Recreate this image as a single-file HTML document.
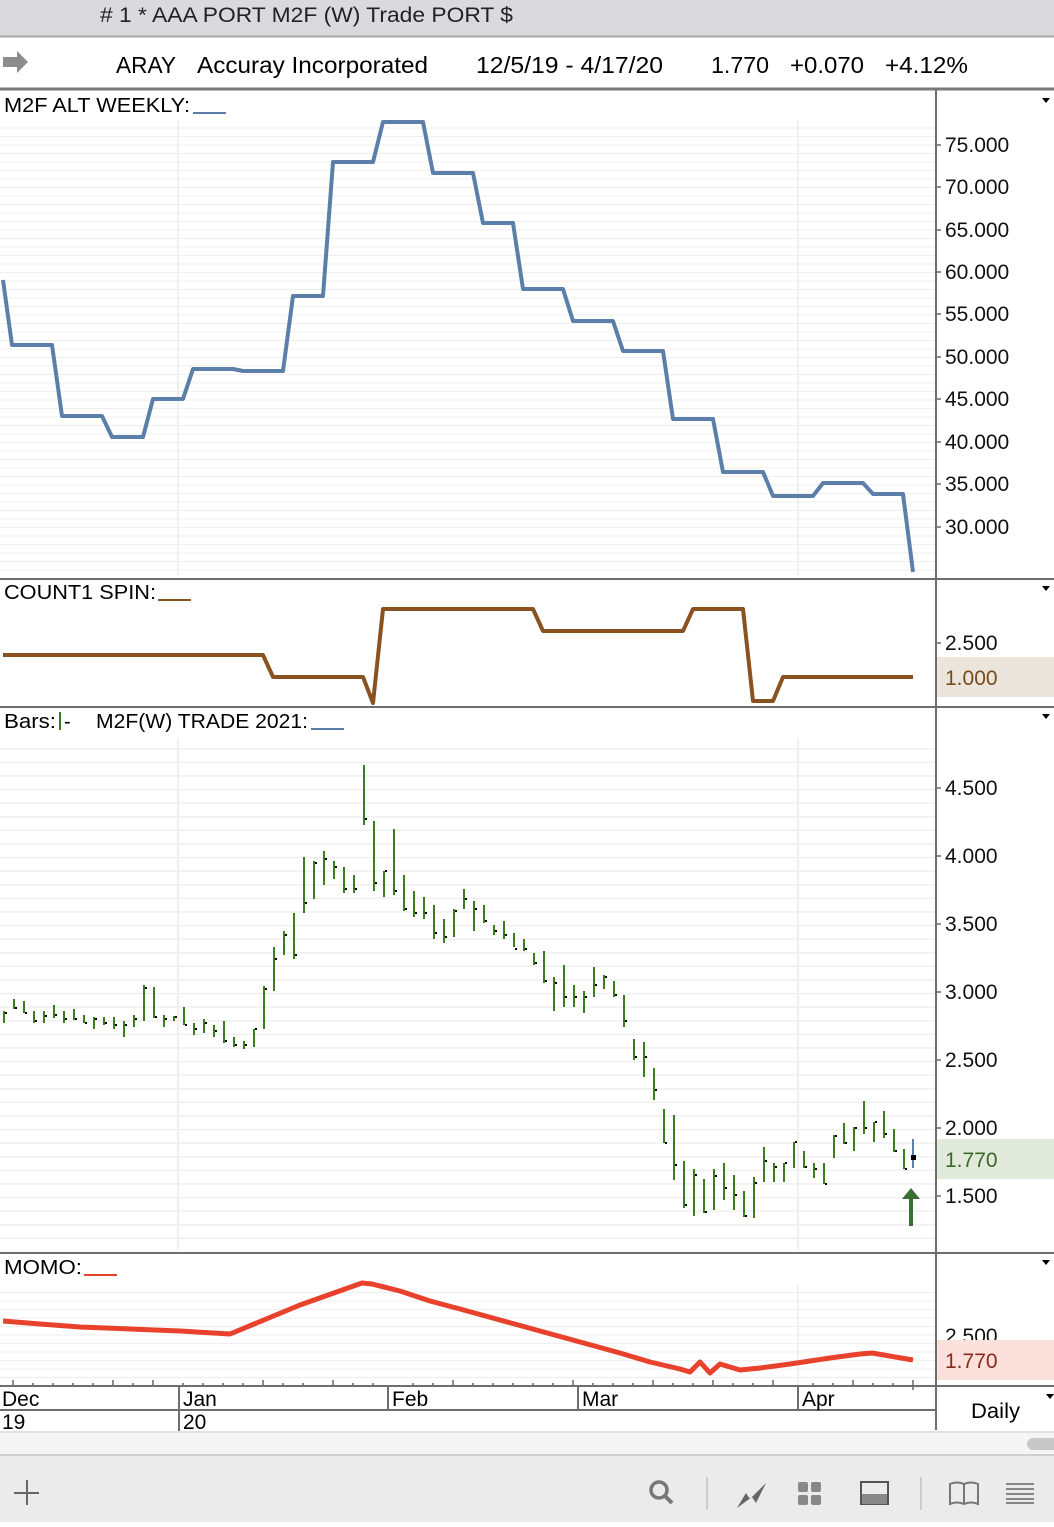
<!DOCTYPE html>
<html><head><meta charset="utf-8"><style>
html,body{margin:0;padding:0;background:#fff;}
body{width:1054px;height:1522px;overflow:hidden;font-family:"Liberation Sans",sans-serif;}
svg text{font-family:"Liberation Sans",sans-serif;}
</style></head><body>
<svg width="1054" height="1522" viewBox="0 0 1054 1522" xmlns="http://www.w3.org/2000/svg">
<defs>
<pattern id="g1" width="10" height="8.5" patternUnits="userSpaceOnUse"><line x1="0" y1="0.5" x2="10" y2="0.5" stroke="#efefef" stroke-width="1"/></pattern>
<pattern id="g2" width="10" height="13.6" patternUnits="userSpaceOnUse"><line x1="0" y1="0.5" x2="10" y2="0.5" stroke="#efefef" stroke-width="2"/></pattern>
</defs>
<!-- header -->
<rect x="0" y="0" width="1054" height="36" fill="#dad9db"/>
<line x1="0" y1="36.5" x2="1054" y2="36.5" stroke="#a9a9a9" stroke-width="2"/>
<text x="100" y="22" font-size="21" fill="#222" textLength="413" lengthAdjust="spacingAndGlyphs"># 1 * AAA PORT M2F (W) Trade PORT $</text>
<path d="M3 57 h14 v-6 l11 11 l-11 11 v-6 h-14z" fill="#8c8c8c"/>
<text x="116" y="73" font-size="23" fill="#000" textLength="60" lengthAdjust="spacingAndGlyphs">ARAY</text>
<text x="197" y="73" font-size="23" fill="#000" textLength="231" lengthAdjust="spacingAndGlyphs">Accuray Incorporated</text>
<text x="476" y="73" font-size="23" fill="#000" textLength="187" lengthAdjust="spacingAndGlyphs">12/5/19 - 4/17/20</text>
<text x="711" y="73" font-size="23" fill="#000" textLength="58" lengthAdjust="spacingAndGlyphs">1.770</text>
<text x="790" y="73" font-size="23" fill="#000" textLength="74" lengthAdjust="spacingAndGlyphs">+0.070</text>
<text x="885" y="73" font-size="23" fill="#000" textLength="83" lengthAdjust="spacingAndGlyphs">+4.12%</text>
<line x1="0" y1="89" x2="1054" y2="89" stroke="#7a7a7a" stroke-width="3"/>

<!-- grids -->
<rect x="0" y="120" width="936" height="455" fill="url(#g1)"/>
<rect x="0" y="738" width="936" height="512" fill="url(#g2)"/>
<rect x="0" y="1285" width="936" height="100" fill="url(#g1)"/>
<line x1="178" y1="120" x2="178" y2="575" stroke="#efefef" stroke-width="2"/>
<line x1="798" y1="120" x2="798" y2="575" stroke="#efefef" stroke-width="2"/>
<line x1="178" y1="738" x2="178" y2="1250" stroke="#efefef" stroke-width="2"/>
<line x1="798" y1="738" x2="798" y2="1250" stroke="#efefef" stroke-width="2"/>
<line x1="798" y1="1285" x2="798" y2="1385" stroke="#efefef" stroke-width="2"/>

<!-- panel separators -->
<line x1="936" y1="90" x2="936" y2="1430" stroke="#6e6e6e" stroke-width="2"/>
<line x1="0" y1="579" x2="1054" y2="579" stroke="#6e6e6e" stroke-width="2"/>
<line x1="0" y1="707" x2="1054" y2="707" stroke="#6e6e6e" stroke-width="2"/>
<line x1="0" y1="1253" x2="1054" y2="1253" stroke="#6e6e6e" stroke-width="2"/>
<line x1="0" y1="1386" x2="1054" y2="1386" stroke="#6e6e6e" stroke-width="2"/>

<!-- panel labels -->
<text x="4" y="112" font-size="20" textLength="186" lengthAdjust="spacingAndGlyphs">M2F ALT WEEKLY:</text><line x1="193" y1="113" x2="226" y2="113" stroke="#5b7fa8" stroke-width="2"/>
<text x="4" y="599" font-size="20" textLength="152" lengthAdjust="spacingAndGlyphs">COUNT1 SPIN:</text><line x1="158" y1="600" x2="191" y2="600" stroke="#8a5220" stroke-width="2"/>
<text x="4" y="728" font-size="20" textLength="52" lengthAdjust="spacingAndGlyphs">Bars:</text><line x1="60" y1="712" x2="60" y2="730" stroke="#3d7d1f" stroke-width="2"/><text x="64" y="728" font-size="20">-</text>
<text x="96" y="728" font-size="20" textLength="212" lengthAdjust="spacingAndGlyphs">M2F(W) TRADE 2021:</text><line x1="311" y1="729" x2="344" y2="729" stroke="#5b7fa8" stroke-width="2"/>
<text x="4" y="1274" font-size="20" textLength="78" lengthAdjust="spacingAndGlyphs">MOMO:</text><line x1="84" y1="1275" x2="117" y2="1275" stroke="#e8412c" stroke-width="2"/>
<g fill="#000"><path d="M1042 98 h8 l-4 5z"/><path d="M1042 586 h8 l-4 5z"/><path d="M1042 714 h8 l-4 5z"/><path d="M1042 1260 h8 l-4 5z"/><path d="M1046 1394 h8 l-4 5z"/></g>

<!-- right axis labels -->
<g font-size="21" fill="#111">
<text x="945" y="152">75.000</text><text x="945" y="194">70.000</text><text x="945" y="237">65.000</text><text x="945" y="279">60.000</text><text x="945" y="321">55.000</text><text x="945" y="364">50.000</text><text x="945" y="406">45.000</text><text x="945" y="449">40.000</text><text x="945" y="491">35.000</text><text x="945" y="534">30.000</text>
<text x="945" y="650">2.500</text>
<text x="945" y="795">4.500</text><text x="945" y="863">4.000</text><text x="945" y="931">3.500</text><text x="945" y="999">3.000</text><text x="945" y="1067">2.500</text><text x="945" y="1135">2.000</text><text x="945" y="1203">1.500</text>
<text x="945" y="1343">2.500</text>
</g>
<g stroke="#666" stroke-width="1.5">
<path d="M937 145h4M937 187h4M937 230h4M937 272h4M937 314h4M937 357h4M937 399h4M937 442h4M937 484h4M937 527h4M937 643h4M937 788h4M937 856h4M937 924h4M937 992h4M937 1060h4M937 1128h4M937 1196h4"/>
</g>
<rect x="937" y="657" width="117" height="40" fill="#ece5dc"/>
<text x="945" y="685" font-size="21" fill="#7a4a1a">1.000</text>
<rect x="937" y="1139" width="117" height="40" fill="#e2eadc"/>
<text x="945" y="1167" font-size="21" fill="#3b6a24">1.770</text>
<rect x="937" y="1340" width="117" height="40" fill="#fbe0dc"/>
<text x="945" y="1368" font-size="21" fill="#8a2a1a">1.770</text>

<!-- top blue step line -->
<polyline fill="none" stroke="#5b7fa8" stroke-width="4" stroke-linejoin="round" points="3,280 12,345 52,345 62,416 102,416 112,437 143,437 153,399 183,399 193,369 233,369 243,371 283,371 293,296 323,296 333,162 373,162 383,122 423,122 433,173 473,173 483,223 513,223 523,289 563,289 573,321 613,321 623,351 663,351 673,419 713,419 723,472 763,472 773,496 813,496 823,483 863,483 873,494 903,494 913,572"/>

<!-- count1 brown -->
<polyline fill="none" stroke="#8a5220" stroke-width="4" stroke-linejoin="round" points="3,655 263,655 273,677 363,677 373,703 383,609 533,609 543,631 683,631 693,609 743,609 753,701 773,701 783,677 913,677"/>

<!-- price bars -->
<path fill="none" stroke="#3d7d1f" stroke-width="2" d="M4 1011V1023M14 999V1009M24 1001V1013M34 1011V1023M44 1011V1023M54 1005V1018M64 1011V1023M74 1009V1020M84 1015V1023M94 1017V1029M104 1017V1025M114 1017V1029M124 1021V1037M134 1015V1027M144 985V1021M154 987V1018M164 1015V1027M174 1016V1021M184 1007V1025M194 1023V1035M204 1019V1033M214 1025V1037M224 1021V1043M234 1037V1047M244 1041V1049M254 1029V1047M264 986V1029M274 947V991M284 931V955M294 913V959M304 857V913M314 861V899M324 851V885M334 861V879M344 867V893M354 875V893M364 765V825M374 821V891M384 871V897M394 829V895M404 875V911M414 891V917M424 897V919M434 905V939M444 919V943M454 909V937M464 889V909M474 901V931M484 905V923M494 925V935M504 921V939M514 933V947M524 939V951M534 953V965M544 951V983M554 977V1011M564 965V1007M574 985V1007M584 991V1013M594 967V997M604 975V989M614 981V997M624 995V1027M634 1039V1060M644 1042V1077M654 1068V1100M664 1109V1143M674 1115V1180M684 1161V1208M694 1169V1216M704 1179V1213M714 1169V1210M724 1163V1200M734 1175V1210M744 1191V1217M754 1177V1218M764 1147V1182M774 1163V1182M784 1163V1182M794 1142V1168M804 1151V1168M814 1163V1178M824 1163V1184M834 1135V1158M844 1123V1144M854 1127V1151M864 1101V1134M874 1122V1142M884 1111V1138M894 1129V1152M904 1149V1169"/>
<path fill="none" stroke="#5b7fa8" stroke-width="2" d="M913 1139V1168"/>
<path fill="none" stroke="#000" stroke-width="2" d="M5 1013h2M15 1008h2M25 1013h2M35 1021h2M45 1016h2M55 1015h2M65 1019h2M75 1019h2M85 1023h2M95 1019h2M105 1023h2M115 1025h2M125 1025h2M135 1019h2M145 988h2M155 1017h2M165 1019h2M175 1017h2M185 1025h2M195 1029h2M205 1023h2M215 1031h2M225 1041h2M235 1045h2M245 1045h2M255 1029h2M265 989h2M275 959h2M285 935h2M295 955h2M305 903h2M315 863h2M325 859h2M335 867h2M345 889h2M355 889h2M365 819h2M375 883h2M385 871h2M395 891h2M405 909h2M415 913h2M425 913h2M435 933h2M445 937h2M455 911h2M465 899h2M475 909h2M485 921h2M495 931h2M505 935h2M515 949h2M525 949h2M535 963h2M545 981h2M555 983h2M565 997h2M575 997h2M585 997h2M595 985h2M605 977h2M615 995h2M625 1021h2M635 1057h2M645 1057h2M655 1090h2M665 1143h2M675 1165h2M685 1205h2M695 1175h2M705 1212h2M715 1176h2M725 1188h2M735 1195h2M745 1216h2M755 1183h2M765 1161h2M775 1167h2M785 1163h2M795 1142h2M805 1167h2M815 1169h2M825 1184h2M835 1136h2M845 1143h2M855 1128h2M865 1128h2M875 1122h2M885 1134h2M895 1151h2M905 1169h2"/>
<rect x="911" y="1155" width="5" height="5" fill="#000"/>
<!-- green arrow -->
<path d="M911 1226V1198" stroke="#3b6e34" stroke-width="4"/>
<path d="M902 1199 l9 -11 l9 11z" fill="#3b6e34"/>

<!-- momo -->
<polyline fill="none" stroke="#e8412c" stroke-width="5" stroke-linejoin="round" points="3,1321 40,1324 80,1327 130,1329 180,1331 230,1334 300,1305 362,1283 372,1284 400,1291 430,1301 460,1309 500,1320 540,1331 580,1342 620,1353 650,1362 680,1369 690,1372 700,1362 710,1373 720,1364 740,1370 760,1368 790,1364 830,1358 860,1354 872,1353 913,1360"/>

<!-- x axis -->
<g stroke="#666" stroke-width="1.5">
<path d="M13 1380v5M33 1383v3M53 1383v3M73 1383v3M93 1383v3M113 1380v5M133 1383v3M153 1380v5M183 1383v3M203 1383v3M223 1383v3M243 1383v3M263 1380v5M283 1383v3M303 1383v3M333 1380v5M353 1383v3M373 1383v3M413 1383v3M433 1383v3M453 1380v5M473 1383v3M493 1383v3M513 1383v3M533 1383v3M553 1383v3M573 1380v5M593 1383v3M613 1383v3M633 1383v3M653 1380v5M673 1383v3M693 1383v3M713 1380v5M733 1383v3M753 1383v3M773 1380v5M813 1383v3M833 1383v3M853 1380v5M873 1383v3M893 1383v3M913 1380v10"/>
</g>
<line x1="0" y1="1410" x2="936" y2="1410" stroke="#6e6e6e" stroke-width="2"/>
<line x1="179" y1="1386" x2="179" y2="1431" stroke="#6e6e6e" stroke-width="2"/>
<line x1="388" y1="1386" x2="388" y2="1410" stroke="#6e6e6e" stroke-width="2"/>
<line x1="578" y1="1386" x2="578" y2="1410" stroke="#6e6e6e" stroke-width="2"/>
<line x1="798" y1="1386" x2="798" y2="1410" stroke="#6e6e6e" stroke-width="2"/>
<g font-size="21" fill="#000">
<text x="2" y="1406">Dec</text><text x="2" y="1429">19</text>
<text x="183" y="1406">Jan</text><text x="183" y="1429">20</text>
<text x="392" y="1406">Feb</text><text x="582" y="1406">Mar</text><text x="802" y="1406">Apr</text>
<text x="971" y="1418" textLength="49" lengthAdjust="spacingAndGlyphs">Daily</text>
</g>
<!-- scrollbar -->
<rect x="0" y="1432" width="1054" height="22" fill="#f5f5f5"/>
<line x1="0" y1="1432" x2="1054" y2="1432" stroke="#e2e2e2" stroke-width="2"/>
<rect x="1027" y="1438" width="40" height="12" rx="6" fill="#c8c8c8"/>
<line x1="0" y1="1455" x2="1054" y2="1455" stroke="#cfcfcf" stroke-width="2"/>
<rect x="0" y="1456" width="1054" height="66" fill="#ebebeb"/>
<!-- toolbar icons -->
<path d="M27 1480v25M14 1493h25" stroke="#666" stroke-width="2"/>
<circle cx="659" cy="1490" r="8" fill="none" stroke="#777" stroke-width="3.5"/><path d="M665 1496l7 7" stroke="#777" stroke-width="4"/>
<line x1="707" y1="1477" x2="707" y2="1510" stroke="#ccc" stroke-width="2"/>
<path d="M737 1508 l9-15 l4 6 l16-16 l-10 20 l-4-6z" fill="#666"/>
<g fill="#888"><rect x="798" y="1482" width="10" height="10" rx="2"/><rect x="811" y="1482" width="10" height="10" rx="2"/><rect x="798" y="1495" width="10" height="10" rx="2"/><rect x="811" y="1495" width="10" height="10" rx="2"/></g>
<rect x="861" y="1482" width="27" height="22" fill="none" stroke="#555" stroke-width="2"/><rect x="862" y="1494" width="25" height="10" fill="#888"/>
<line x1="921" y1="1477" x2="921" y2="1510" stroke="#ccc" stroke-width="2"/>
<path d="M950 1484 q7-3 14 0 q7-3 14 0 v20 q-7-3-14 0 q-7-3-14 0z M964 1484 v20" fill="none" stroke="#777" stroke-width="2"/>
<path d="M1006 1484h28M1006 1489h28M1006 1494h28M1006 1499h28M1006 1503h28" stroke="#666" stroke-width="1.5"/>
</svg>
</body></html>
